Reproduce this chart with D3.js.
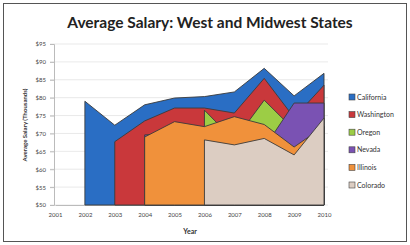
<!DOCTYPE html>
<html lang="en">
<head>
<meta charset="UTF-8">
<title>Average Salary: West and Midwest States</title>
<script src="https://d3js.org/d3.v7.min.js"></script>
<style>
  body { margin: 0; background: #fff; }
  text { font-family: Lato, "Open Sans", sans-serif; }
</style>
</head>
<body>
<svg width="410" height="245"></svg>
<script>
// values in thousands of dollars, null = no data that year
const years = ["2001", "2002", "2003", "2004", "2005", "2006", "2007", "2008", "2009", "2010"];
const states = ["California", "Washington", "Oregon", "Nevada", "Illinois", "Colorado"];
const california = [null, 79, 72.3, 78, 79.9, 80.3, 81.6, 88.2, 80.5, 86.8];
const washington = [null, null, 67.7, 73.5, 77.1, 77.1, 75.7, 85.4, 74.4, 83.5];
const oregon     = [null, null, null, null, null, 76.5, 68, 79.3, 71, 72];
const nevada     = [null, null, null, 69.6, 70, 70, 71, 66, 78.5, 78.5];
const illinois   = [null, null, null, 69, 73.3, 71.9, 74.7, 72.5, 66.2, 72];
const colorado   = [null, null, null, null, null, 68.2, 66.8, 68.6, 64, 74.3];
const yTicks = [50, 55, 60, 65, 70, 75, 80, 85, 90, 95];
const colors = ["#2a6ec4", "#c9383b", "#9ccd45", "#7a52b3", "#f0913b", "#dccdc2"];

const series = [california, washington, oregon, nevada, illinois, colorado];

const svg = d3.select("svg");

// outer frame
svg.append("rect")
    .attr("x", 3.5).attr("y", 3.5)
    .attr("width", 403).attr("height", 238)
    .attr("fill", "#fff")
    .attr("stroke", "#555")
    .attr("stroke-width", 1);

const x = d3.scalePoint().domain(years).range([55, 324]);
const y = d3.scaleLinear().domain([50, 95]).range([205, 44]);

// gridlines
svg.append("g")
    .selectAll("line")
    .data(yTicks)
    .join("line")
    .attr("x1", 50).attr("x2", 328)
    .attr("y1", d => y(d)).attr("y2", d => y(d))
    .attr("stroke", "#e3e3e3")
    .attr("stroke-width", 0.8);

// y axis
const yAxis = svg.append("g")
    .attr("transform", "translate(54,0)")
    .call(d3.axisLeft(y).tickValues(yTicks).tickSize(4).tickPadding(4).tickFormat(d => "$" + d));
yAxis.select(".domain").attr("stroke", "#bbb");
yAxis.selectAll(".tick line").attr("stroke", "#bbb");
yAxis.selectAll("text").attr("font-size", 6).attr("fill", "#444");

// x axis
const xAxis = svg.append("g")
    .attr("transform", "translate(0,205)")
    .call(d3.axisBottom(x).tickSize(0).tickPadding(8));
xAxis.select(".domain").attr("stroke", "#bbb");
xAxis.selectAll("text").attr("font-size", 6).attr("fill", "#444");

// areas, back to front
const area = d3.area()
    .defined(d => d.v != null)
    .x(d => x(d.year))
    .y0(y(50))
    .y1(d => y(d.v));

svg.append("g")
    .selectAll("path")
    .data(series)
    .join("path")
    .attr("d", s => area(s.map((v, i) => ({year: years[i], v: v}))))
    .attr("fill", (s, i) => colors[i])
    .attr("stroke", "#3b3b3b")
    .attr("stroke-width", 0.9)
    .attr("stroke-linejoin", "round");

// title
svg.append("text")
    .attr("x", 210).attr("y", 28)
    .attr("text-anchor", "middle")
    .attr("font-size", 15.5)
    .attr("font-weight", "bold")
    .attr("fill", "#222")
    .text("Average Salary: West and Midwest States");

// axis titles
svg.append("text")
    .attr("transform", "translate(27,125) rotate(-90)")
    .attr("text-anchor", "middle")
    .attr("font-size", 6)
    .attr("font-weight", "bold")
    .attr("fill", "#333")
    .text("Average Salary (Thousands)");

svg.append("text")
    .attr("x", 190).attr("y", 234)
    .attr("text-anchor", "middle")
    .attr("font-size", 7)
    .attr("font-weight", "bold")
    .attr("fill", "#333")
    .text("Year");

// legend
const legend = svg.append("g")
    .selectAll("g")
    .data(states)
    .join("g")
    .attr("transform", (d, i) => `translate(349,${97 + i * 17.6})`);

legend.append("rect")
    .attr("x", 0).attr("y", -3)
    .attr("width", 6).attr("height", 6)
    .attr("fill", (d, i) => colors[i])
    .attr("stroke", "#444")
    .attr("stroke-width", 0.6);

legend.append("text")
    .attr("x", 8).attr("y", 2.5)
    .attr("font-size", 7)
    .attr("fill", "#333")
    .text(d => d);
</script>
</body>
</html>
